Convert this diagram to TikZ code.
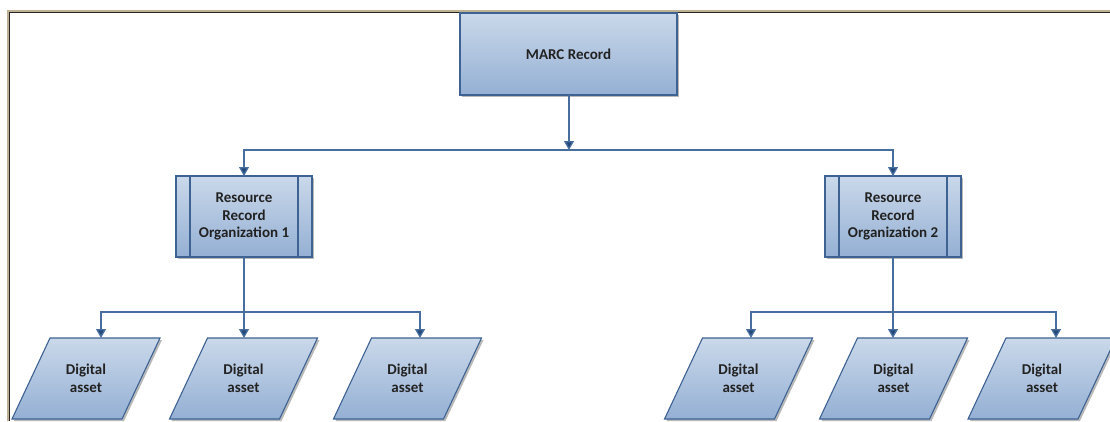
\documentclass[tikz,border=0pt]{standalone}
\usepackage{fontspec}
\setmainfont{Carlito}
\usetikzlibrary{arrows.meta,shadows,calc,backgrounds}
\definecolor{frametan}{RGB}{190,176,146}
\definecolor{boxtop}{RGB}{202,216,234}
\definecolor{boxbot}{RGB}{148,176,212}
\definecolor{boxborder}{RGB}{62,98,146}
\definecolor{linecol}{RGB}{72,110,160}
\definecolor{tipcol}{RGB}{35,72,122}
\definecolor{txt}{RGB}{34,34,34}
\tikzset{
  boxlook/.style={draw=boxborder, line width=1.1pt, top color=boxtop, bottom color=boxbot,
    drop shadow={shadow xshift=2pt, shadow yshift=-2pt, fill=black!50, opacity=0.55}},
  label/.style={font=\bfseries\fontsize{15}{17.5}\selectfont, text=txt, align=center, inner sep=0pt, outer sep=0pt},
  marcbox/.style={boxlook, label, rectangle, minimum width=217pt, minimum height=82pt},
  resbox/.style={boxlook, label, rectangle, minimum width=136pt, minimum height=81pt,
    path picture={
      \draw[boxborder, line width=1.1pt] ([xshift=14pt]path picture bounding box.north west) -- ([xshift=14pt]path picture bounding box.south west);
      \draw[boxborder, line width=1.1pt] ([xshift=-14pt]path picture bounding box.north east) -- ([xshift=-14pt]path picture bounding box.south east);
    }},
  asset/.style={label, rectangle, minimum width=148pt, minimum height=81pt},
  line/.style={draw=linecol, line width=1.3pt},
  conn/.style={line, -{Triangle[width=10pt,length=9pt,fill=tipcol]}},
}
\begin{document}
\begin{tikzpicture}[x=1pt,y=-1pt]
\useasboundingbox (0,0) rectangle (1110,421);
% nodes
\node[marcbox] (marc) at (568.5,54) {MARC Record};
\node[resbox] (res1) at (244,216.5) {Resource\\Record\\Organization 1};
\node[resbox] (res2) at (893,216.5) {Resource\\Record\\Organization 2};
\node[asset] (a1) at (86,378.5) {Digital\\asset};
\node[asset] (a2) at (243.5,378.5) {Digital\\asset};
\node[asset] (a3) at (407.5,378.5) {Digital\\asset};
\node[asset] (a4) at (738.5,378.5) {Digital\\asset};
\node[asset] (a5) at (893.5,378.5) {Digital\\asset};
\node[asset] (a6) at (1042,378.5) {Digital\\asset};
\begin{scope}[on background layer]
  \fill[white] (0,0) rectangle (1110,421);
  \foreach \n in {a1,a2,a3,a4,a5,a6}
    \path[boxlook] (\n.south west) -- ($(\n.north west)+(38,0)$) -- (\n.north east) -- ($(\n.south east)+(-38,0)$) -- cycle;
  % frame
  \draw[frametan, line width=2.2pt] (1110,11) -- (8,11) -- (8,421);
  \draw[black!85, line width=1pt] (1110,12.8) -- (9.8,12.8) -- (9.8,421);
\end{scope}
\coordinate (j0) at (569,150);
\coordinate (j1) at (244,312);
\coordinate (j2) at (893,312);
% connectors
\draw[line] (j0) -| (res1.north);
\draw[line] (j0) -| (res2.north);
\draw[conn] (j0 |- marc.south) -- (j0);
\draw[conn] (j0 -| res1.north) -- (res1.north);
\draw[conn] (j0 -| res2.north) -- (res2.north);
\draw[line] (res1.south) -- (j1);
\draw[line] (res2.south) -- (j2);
\draw[conn] (j1) -| ($(a1.north)+(15,0)$);
\draw[conn] (j1) -- (j1 |- a2.north);
\draw[conn] (j1) -| ($(a3.north)+(12.5,0)$);
\draw[conn] (j2) -| ($(a4.north)+(12.5,0)$);
\draw[conn] (j2) -- (j2 |- a5.north);
\draw[conn] (j2) -| ($(a6.north)+(14,0)$);
\end{tikzpicture}
\end{document}
